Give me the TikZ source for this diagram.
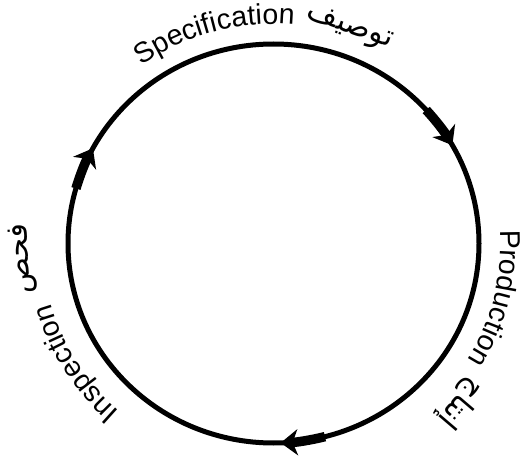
\documentclass[tikz,border=0pt]{standalone}
\usepackage{fontspec}
\setmainfont{Liberation Sans}
\newfontfamily\arabicfont[Script=Arabic]{DejaVu Sans}
\TeXXeTstate=1
\usetikzlibrary{decorations.text,arrows.meta}
\newcommand{\labsize}{\fontsize{28.5pt}{32pt}\selectfont}
\begin{document}
\begin{tikzpicture}[x=1pt,y=1pt,
  ring/.style={line width=5pt},
  flowarrow/.style={line width=9.5pt, -{Stealth[length=17pt,width=26pt,inset=5pt]}},
  arlabel/.style={font=\arabicfont\fontsize{30pt}{34pt}\selectfont, anchor=center, inner sep=0pt},
]
\useasboundingbox (0,0) rectangle (520,456);
\coordinate (c) at (273.5,212.5);
\draw[ring] (c) ellipse [x radius=205.5, y radius=199.5];
% arrows
\draw[flowarrow] (c) ++(42:205.5 and 199.5) arc[start angle=42, end angle=29.5, x radius=205.5, y radius=199.5];
\draw[flowarrow] (c) ++(164:205.5 and 199.5) arc[start angle=164, end angle=151.5, x radius=205.5, y radius=199.5];
\draw[flowarrow] (c) ++(-75.5:205.5 and 199.5) arc[start angle=-75.5, end angle=-88, x radius=205.5, y radius=199.5];
% latin labels along the ring
\path[decorate, decoration={text along path, text align=center, text={|\labsize|Specification}}]
  (c) ++(155.5:225.5 and 219.5) arc[start angle=155.5, end angle=55.5, x radius=225.5, y radius=219.5];
\path[decorate, decoration={text along path, text align=center, text={|\labsize|Production}}]
  (c) ++(36:227.5 and 221.5) arc[start angle=36, end angle=-64, x radius=227.5, y radius=221.5];
\path[decorate, decoration={text along path, text align=center, text={|\labsize|Inspection}}]
  (c) ++(-98.5:231 and 225) arc[start angle=-98.5, end angle=-198.5, x radius=231, y radius=225];
% arabic labels
\path (c) ++(70.5:228) node[arlabel, rotate=-19.5] (specar) {\beginR توصيف\endR};
\path (c) ++(-40.5:246) node[arlabel, rotate=-130.5] (prodar) {\beginR إنتاج\endR};
\path (c) ++(-176.5:251) node[arlabel, rotate=93.5] (inspar) {\beginR فحص\endR};
\end{tikzpicture}
\end{document}
